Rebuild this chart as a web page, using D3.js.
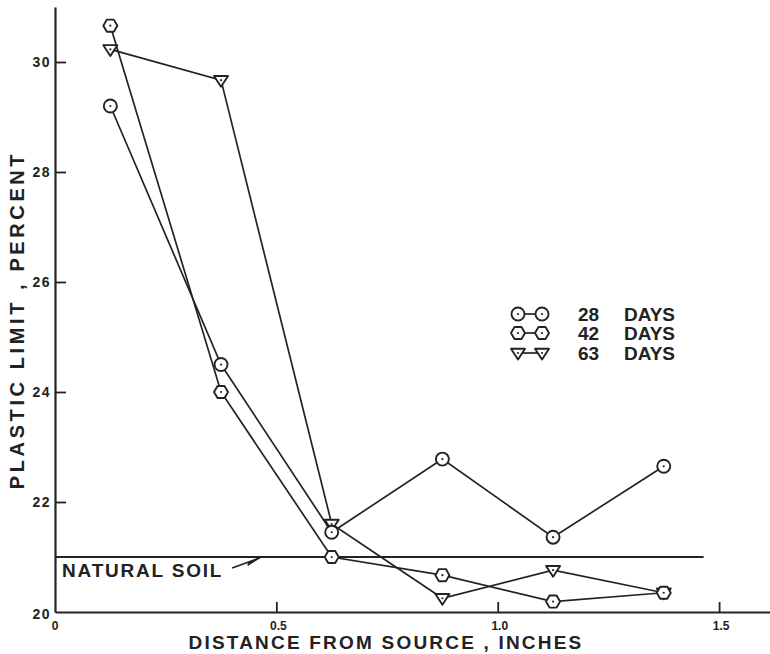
<!DOCTYPE html>
<html>
<head>
<meta charset="utf-8">
<script src="https://cdn.jsdelivr.net/npm/d3@7"></script>
<style>
  html, body { margin: 0; padding: 0; background: #fff; }
  svg { display: block; }
  text { font-family: "Liberation Sans", Arial, sans-serif; font-weight: bold; fill: #222; }
</style>
</head>
<body>
<svg id="chart" width="770" height="654"></svg>
<script>
// Plastic limit of soil vs. distance from the source, for three curing ages
const distance = [0.125, 0.375, 0.625, 0.875, 1.125, 1.375];
const days28 = [29.2, 24.5, 21.45, 22.78, 21.36, 22.65];
const days42 = [30.66, 24.0, 21.0, 20.67, 20.19, 20.35];
const days63 = [30.23, 29.67, 21.6, 20.25, 20.76, 20.35];
const naturalSoil = 21.0;
const naturalSoilEnd = 1.465;
const yTicks = [20, 22, 24, 26, 28, 30];
const xTicks = [0, 0.5, 1.0, 1.5];
const xTickLabels = ["0", "0.5", "1.0", "1.5"];
const seriesNames = ["28", "42", "63"];

const ink = "#232323";
const svg = d3.select("#chart");

const x = d3.scaleLinear().domain([0, 1.615]).range([55, 770]);
const y = d3.scaleLinear().domain([20, 31]).range([612, 7]);

// Axes: ticks point into the plot
const xAxis = d3.axisBottom(x).tickValues(xTicks.filter(v => v > 0))
  .tickSize(-10).tickSizeOuter(0).tickFormat("");
const gx = svg.append("g").attr("transform", `translate(0,${y(20)})`).call(xAxis);
gx.select(".domain").attr("stroke", ink).attr("stroke-width", 2.2);
gx.selectAll(".tick line").attr("stroke", ink).attr("stroke-width", 1.8);

const yAxis = d3.axisLeft(y).tickValues(yTicks.filter(v => v > 20))
  .tickSize(-11).tickSizeOuter(0).tickFormat("");
const gy = svg.append("g").attr("transform", `translate(${x(0)},0)`).call(yAxis);
gy.select(".domain").attr("stroke", ink).attr("stroke-width", 2.2);
gy.selectAll(".tick line").attr("stroke", ink).attr("stroke-width", 1.8);

// Tick labels
svg.append("g").selectAll("text").data(yTicks).join("text")
  .attr("x", x(0) - 4)
  .attr("y", d => y(d) + (d === 20 ? 7 : 5))
  .attr("text-anchor", "end")
  .style("font-size", "14px").style("letter-spacing", "1.5px")
  .text(d => d);

svg.append("g").selectAll("text").data(xTicks).join("text")
  .attr("x", d => x(d) + (d === 0 ? 0 : 2))
  .attr("y", y(20) + 18)
  .attr("text-anchor", "middle")
  .style("font-size", "12px")
  .text((d, i) => xTickLabels[i]);

// Axis titles
svg.append("text")
  .attr("transform", `translate(24,320) rotate(-90)`)
  .attr("text-anchor", "middle")
  .style("font-size", "20px").style("letter-spacing", "3.6px")
  .text("PLASTIC LIMIT , PERCENT");

svg.append("text")
  .attr("x", 386).attr("y", 649)
  .attr("text-anchor", "middle")
  .style("font-size", "19px").style("letter-spacing", "2.2px")
  .text("DISTANCE FROM SOURCE , INCHES");

// Natural soil reference line with label and arrow
svg.append("line")
  .attr("x1", x(0)).attr("x2", x(naturalSoilEnd))
  .attr("y1", y(naturalSoil)).attr("y2", y(naturalSoil))
  .attr("stroke", ink).attr("stroke-width", 1.8);

svg.append("text")
  .attr("x", 62).attr("y", 577)
  .style("font-size", "19px").style("letter-spacing", "1.8px")
  .text("NATURAL SOIL");

const ax0 = x(0.40), ay0 = y(20.8), ax1 = x(0.463), ay1 = y(20.985);
svg.append("line")
  .attr("x1", ax0).attr("y1", ay0).attr("x2", ax1).attr("y2", ay1)
  .attr("stroke", ink).attr("stroke-width", 1.6);
const ang = Math.atan2(ay1 - ay0, ax1 - ax0);
const hx = ax1 - 4 * Math.cos(ang), hy = ay1 - 4 * Math.sin(ang);
svg.append("path")
  .attr("d", `M${ax1},${ay1} L${hx - 10 * Math.cos(ang) - 3 * Math.sin(ang)},${hy - 10 * Math.sin(ang) + 3 * Math.cos(ang)} L${hx - 8 * Math.cos(ang)},${hy - 8 * Math.sin(ang)} Z`)
  .attr("fill", ink).attr("stroke", ink).attr("stroke-width", 1);

// Marker shapes
function circleMarker(g, cx, cy) {
  g.append("circle").attr("cx", cx).attr("cy", cy).attr("r", 6.5)
    .attr("fill", "#fff").attr("stroke", ink).attr("stroke-width", 1.9);
}
function hexMarker(g, cx, cy) {
  const r = 7;
  const pts = d3.range(6).map(i => {
    const a = Math.PI / 3 * i;
    return [cx + r * Math.cos(a), cy + r * Math.sin(a)];
  });
  g.append("polygon").attr("points", pts.map(p => p.join(",")).join(" "))
    .attr("fill", "#fff").attr("stroke", ink).attr("stroke-width", 1.9)
    .attr("stroke-linejoin", "round");
}
function triMarker(g, cx, cy) {
  const w = 7, h = 6;
  g.append("polygon")
    .attr("points", `${cx - w},${cy - h * 0.7} ${cx + w},${cy - h * 0.7} ${cx},${cy + h * 1.1}`)
    .attr("fill", "#fff").attr("stroke", ink).attr("stroke-width", 1.9)
    .attr("stroke-linejoin", "round");
}
function dot(g, cx, cy) {
  g.append("circle").attr("cx", cx).attr("cy", cy).attr("r", 1.1).attr("fill", ink);
}

const series = [
  { values: days28, marker: circleMarker },
  { values: days42, marker: hexMarker },
  { values: days63, marker: triMarker }
];

const line = d3.line().x(d => x(d[0])).y(d => y(d[1]));

const linesG = svg.append("g");
series.forEach(s => {
  linesG.append("path")
    .datum(distance.map((d, i) => [d, s.values[i]]))
    .attr("d", line)
    .attr("fill", "none").attr("stroke", ink).attr("stroke-width", 1.7);
});

const markG = svg.append("g");
[series[2], series[1], series[0]].forEach(s => {
  distance.forEach((d, i) => {
    s.marker(markG, x(d), y(s.values[i]));
    dot(markG, x(d), y(s.values[i]));
  });
});

// Legend
const legendRows = [314, 333, 353];
const legend = svg.append("g");
series.forEach((s, i) => {
  const ly = legendRows[i];
  legend.append("line").attr("x1", 518).attr("x2", 542).attr("y1", ly).attr("y2", ly)
    .attr("stroke", ink).attr("stroke-width", 1.7);
  s.marker(legend, 518, ly); dot(legend, 518, ly);
  s.marker(legend, 542, ly); dot(legend, 542, ly);
  legend.append("text").attr("x", 578).attr("y", ly + 7)
    .style("font-size", "19px").text(seriesNames[i]);
  legend.append("text").attr("x", 624).attr("y", ly + 7)
    .style("font-size", "19px").text("DAYS");
});
</script>
</body>
</html>
